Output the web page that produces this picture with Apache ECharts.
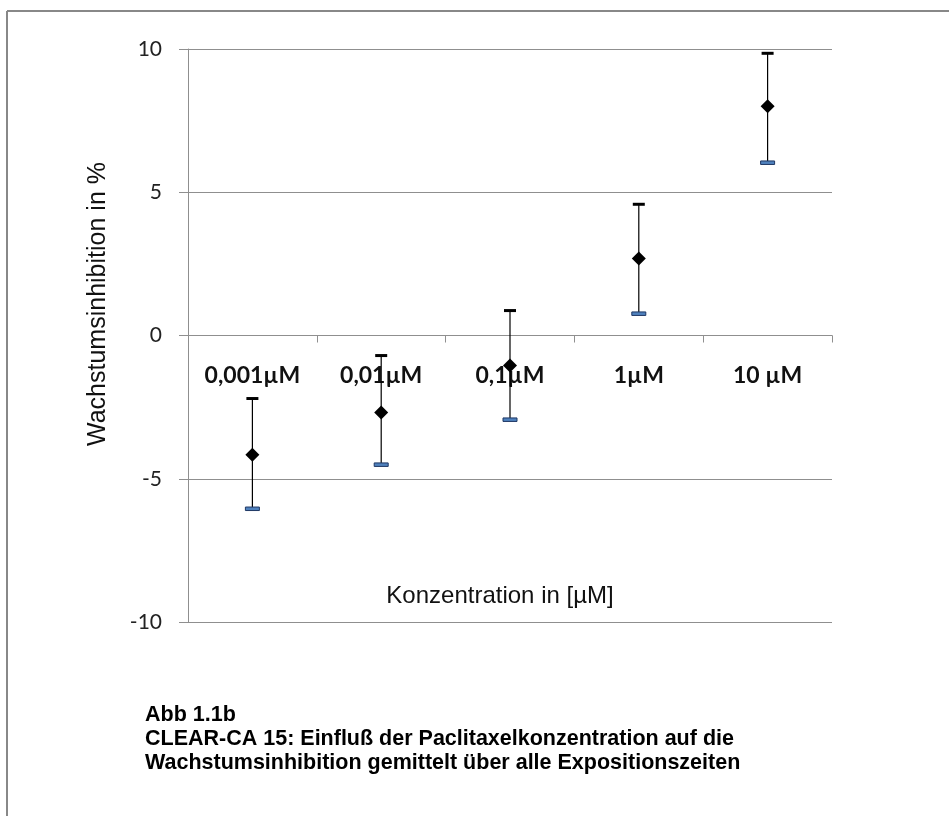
<!DOCTYPE html>
<html>
<head>
<meta charset="utf-8">
<script src="https://cdn.jsdelivr.net/npm/echarts@6/dist/echarts.min.js"></script>
<style>html,body{margin:0;padding:0;background:#fff;}#chart{width:949px;height:816px;}</style>
</head>
<body>
<div id="chart"></div>
<script>
const categories = ['0,001µM', '0,01µM', '0,1µM', '1µM', '10 µM'];
const meanValues = [-4.16, -2.69, -1.05, 2.69, 8.0];
const upperValues = [-2.2, -0.7, 0.87, 4.58, 9.85];
const lowerValues = [-6.04, -4.5, -2.93, 0.77, 6.04];
const yTicks = { min: -10, max: 10, interval: 5 };
const yAxisTitle = 'Wachstumsinhibition in %';
const xAxisTitle = 'Konzentration in [µM]';
const captionLines = [
  'Abb 1.1b',
  'CLEAR-CA 15: Einfluß der Paclitaxelkonzentration auf die',
  'Wachstumsinhibition gemittelt über alle Expositionszeiten'
];

const chart = echarts.init(document.getElementById('chart'));
const gridColor = '#8f8f8f';
const option = {
  backgroundColor: '#fff',
  animation: false,
  grid: { left: 188, top: 49, right: 117, bottom: 194, containLabel: false, outerBoundsMode: 'none' },
  xAxis: {
    type: 'category',
    data: categories,
    position: 'bottom',
    offset: 0,
    boundaryGap: true,
    axisLine: { show: true, onZero: false, lineStyle: { color: gridColor, width: 1 } },
    axisTick: { show: true, length: 7, alignWithLabel: false, lineStyle: { color: gridColor } },
    axisLabel: { fontFamily: 'Lato', fontWeight: 'bold', fontSize: 23, color: '#111', margin: 29 },
    splitLine: { show: false }
  },
  yAxis: {
    type: 'value',
    min: yTicks.min, max: yTicks.max, interval: yTicks.interval,
    axisLine: { show: true, lineStyle: { color: gridColor } },
    axisTick: { show: true, length: 9, lineStyle: { color: gridColor } },
    axisLabel: { fontFamily: 'Lato', fontSize: 21, color: '#222', margin: 26 },
    splitLine: { show: true, lineStyle: { color: gridColor, width: 1 } }
  },
  series: [
    {
      type: 'custom',
      data: categories.map((c, i) => [i, upperValues[i], lowerValues[i]]),
      encode: { x: 0, y: [1, 2] },
      z: 3,
      renderItem: function (params, api) {
        const idx = api.value(0);
        const hi = api.coord([idx, api.value(1)]);
        const lo = api.coord([idx, api.value(2)]);
        return {
          type: 'group',
          children: [
            { type: 'line', shape: { x1: hi[0], y1: hi[1], x2: lo[0], y2: lo[1] }, style: { stroke: '#000', lineWidth: 1.2 } },
            { type: 'rect', shape: { x: hi[0] - 6, y: hi[1] - 1.5, width: 12, height: 3 }, style: { fill: '#000' } },
            { type: 'rect', shape: { x: lo[0] - 7, y: lo[1] - 1.5, width: 14, height: 3.5 }, style: { fill: '#4F81BD', stroke: '#1F3864', lineWidth: 1 } }
          ]
        };
      }
    },
    {
      type: 'scatter',
      data: meanValues,
      symbol: 'diamond',
      symbolSize: 14,
      itemStyle: { color: '#000', opacity: 1 },
      z: 5
    }
  ],
  graphic: [
    { type: 'line', shape: { x1: 7, y1: 11, x2: 949, y2: 11 }, style: { stroke: '#888', lineWidth: 2 } },
    { type: 'line', shape: { x1: 7, y1: 11, x2: 7, y2: 816 }, style: { stroke: '#888', lineWidth: 2 } },
    { type: 'text', x: 98, y: 304, rotation: Math.PI / 2,
      style: { text: yAxisTitle, fontFamily: 'Liberation Sans', fontSize: 25, fill: '#111', textAlign: 'center', textVerticalAlign: 'middle' } },
    { type: 'text', x: 500, y: 596,
      style: { text: xAxisTitle, fontFamily: 'Liberation Sans', fontSize: 24, fill: '#111', textAlign: 'center', textVerticalAlign: 'middle' } },
    { type: 'text', left: 145, top: 703,
      style: { text: captionLines.join('\n'), fontFamily: 'Liberation Sans', fontWeight: 'bold', fontSize: 21.5, lineHeight: 24, fill: '#000' } }
  ]
};
chart.setOption(option);
// Move the category axis onto the zero line, using the library's own scale.
const zeroY = chart.convertToPixel({ yAxisIndex: 0 }, 0);
const bottomY = chart.convertToPixel({ yAxisIndex: 0 }, yTicks.min);
chart.setOption({ xAxis: { offset: -(bottomY - zeroY) } });
</script>
</body>
</html>
